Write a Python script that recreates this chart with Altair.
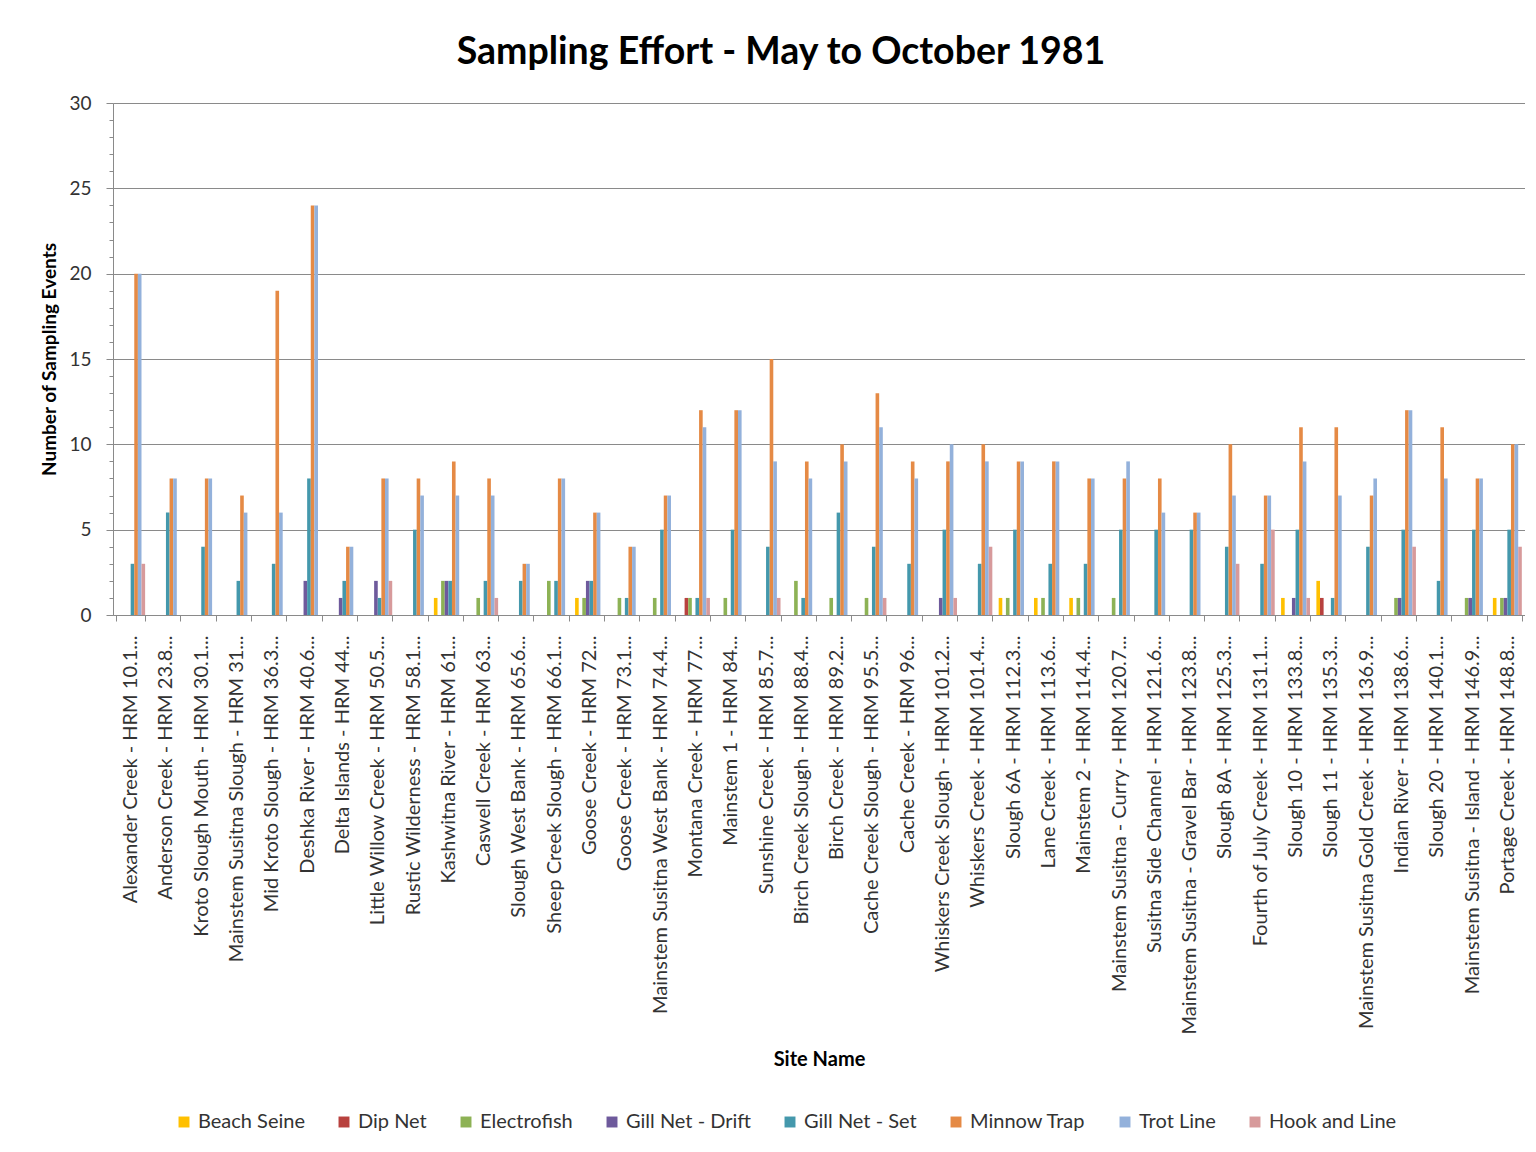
import altair as alt
import pandas as pd

sites = [
    "Alexander Creek - HRM 10.1...", "Anderson Creek - HRM 23.8...",
    "Kroto Slough Mouth - HRM 30.1...", "Mainstem Susitna Slough - HRM 31...",
    "Mid Kroto Slough - HRM 36.3...", "Deshka River - HRM 40.6...",
    "Delta Islands - HRM 44...", "Little Willow Creek - HRM 50.5...",
    "Rustic Wilderness - HRM 58.1...", "Kashwitna River - HRM 61...",
    "Caswell Creek - HRM 63...", "Slough West Bank - HRM 65.6...",
    "Sheep Creek Slough - HRM 66.1...", "Goose Creek - HRM 72...",
    "Goose Creek - HRM 73.1...", "Mainstem Susitna West Bank - HRM 74.4...",
    "Montana Creek - HRM 77...", "Mainstem 1 - HRM 84...",
    "Sunshine Creek - HRM 85.7...", "Birch Creek Slough - HRM 88.4...",
    "Birch Creek - HRM 89.2...", "Cache Creek Slough - HRM 95.5...",
    "Cache Creek - HRM 96...", "Whiskers Creek Slough - HRM 101.2...",
    "Whiskers Creek - HRM 101.4...", "Slough 6A - HRM 112.3...",
    "Lane Creek - HRM 113.6...", "Mainstem 2 - HRM 114.4...",
    "Mainstem Susitna - Curry - HRM 120.7...", "Susitna Side Channel - HRM 121.6...",
    "Mainstem Susitna - Gravel Bar - HRM 123.8...", "Slough 8A - HRM 125.3...",
    "Fourth of July Creek - HRM 131.1...", "Slough 10 - HRM 133.8...",
    "Slough 11 - HRM 135.3...", "Mainstem Susitna Gold Creek - HRM 136.9...",
    "Indian River - HRM 138.6...", "Slough 20 - HRM 140.1...",
    "Mainstem Susitna - Island - HRM 146.9...", "Portage Creek - HRM 148.8...",
]

series = ["Beach Seine", "Dip Net", "Electrofish", "Gill Net - Drift",
          "Gill Net - Set", "Minnow Trap", "Trot Line", "Hook and Line"]

beach_seine   = [0,0,0,0,0,0,0,0,0,1, 0,0,0,1,0,0,0,0,0,0, 0,0,0,0,0,1,1,1,0,0, 0,0,0,1,2,0,0,0,0,1]
dip_net       = [0,0,0,0,0,0,0,0,0,0, 0,0,0,0,0,0,1,0,0,0, 0,0,0,0,0,0,0,0,0,0, 0,0,0,0,1,0,0,0,0,0]
electrofish   = [0,0,0,0,0,0,0,0,0,2, 1,0,2,1,1,1,1,1,0,2, 1,1,0,0,0,1,1,1,1,0, 0,0,0,0,0,0,1,0,1,1]
gill_drift    = [0,0,0,0,0,2,1,2,0,2, 0,0,0,2,0,0,0,0,0,0, 0,0,0,1,0,0,0,0,0,0, 0,0,0,1,0,0,1,0,1,1]
gill_set      = [3,6,4,2,3,8,2,1,5,2, 2,2,2,2,1,5,1,5,4,1, 6,4,3,5,3,5,3,3,5,5, 5,4,3,5,1,4,5,2,5,5]
minnow_trap   = [20,8,8,7,19,24,4,8,8,9, 8,3,8,6,4,7,12,12,15,9, 10,13,9,9,10,9,9,8,8,8, 6,10,7,11,11,7,12,11,8,10]
trot_line     = [20,8,8,6,6,24,4,8,7,7, 7,3,8,6,4,7,11,12,9,8, 9,11,8,10,9,9,9,8,9,6, 6,7,7,9,7,8,12,8,8,10]
hook_and_line = [3,0,0,0,0,0,0,2,0,0, 1,0,0,0,0,0,1,0,1,0, 0,1,0,1,4,0,0,0,0,0, 0,3,5,1,0,0,4,0,0,4]

colors = ["#FFC000", "#B8413E", "#8DB255", "#6E5A9C",
          "#4498AC", "#E58A45", "#93B1DB", "#D79A9B"]

all_values = [beach_seine, dip_net, electrofish, gill_drift,
              gill_set, minnow_trap, trot_line, hook_and_line]

rows = []
for name, vals in zip(series, all_values):
    for s, v in zip(sites, vals):
        rows.append({"site": s, "method": name, "events": v})
df = pd.DataFrame(rows)

FONT = "Lato"
GRID = "#8A8A8A"
TEXT = "#333333"
W, H = 1412, 512

chart = alt.Chart(df).mark_bar().encode(
    x=alt.X(
        "site:N", sort=sites,
        scale=alt.Scale(paddingInner=0.18, paddingOuter=0.09),
        axis=alt.Axis(
            title="Site Name", labelAngle=-90, labelLimit=1000,
            labelFontSize=20, labelFont=FONT, labelColor=TEXT,
            labelPadding=14, tickBand="extent", tickSize=6,
            tickColor=GRID, domainColor=GRID,
            titleFontSize=20, titleFont=FONT, titleFontWeight="bold",
            titleColor="#000000", titleY=434,
        ),
    ),
    xOffset=alt.XOffset("method:N", sort=series,
                        scale=alt.Scale(domain=series, paddingInner=0, paddingOuter=0)),
    y=alt.Y(
        "events:Q",
        scale=alt.Scale(domain=[0, 30], nice=False),
        axis=alt.Axis(
            title="Number of Sampling Events",
            values=list(range(31)),
            labelExpr="datum.value % 5 === 0 ? datum.label : ''",
            labelOverlap=False,
            tickSize={"condition": {"test": "datum.value % 5 === 0", "value": 7}, "value": 4},
            gridOpacity={"condition": {"test": "datum.value % 5 === 0", "value": 1}, "value": 0},
            gridColor=GRID, tickColor=GRID, domainColor=GRID,
            labelFontSize=19, labelFont=FONT, labelColor=TEXT, labelPadding=15,
            titleFontSize=19, titleFont=FONT, titleFontWeight="bold",
            titleColor="#000000", titleX=-54, titleY=256,
        ),
    ),
    color=alt.Color(
        "method:N",
        scale=alt.Scale(domain=series, range=colors),
        legend=alt.Legend(
            title=None, orient="none", legendX=61, legendY=1009,
            direction="horizontal", symbolType="square", symbolSize=120,
            symbolStrokeWidth=0, labelFontSize=20, labelFont=FONT,
            labelColor=TEXT, columnPadding=29, labelOffset=4, padding=0,
        ),
    ),
).properties(
    width=W, height=H,
    padding={"left": 32, "top": 25, "right": 0, "bottom": 0},
    title=alt.TitleParams(
        "Sampling Effort - May to October 1981",
        fontSize=37.5, font=FONT, fontWeight="bold", color="#000000",
        anchor="middle", frame="group", dx=-38, offset=23,
    ),
).configure_view(stroke=None).configure(background="white")

chart.save("out.html", embed_options={"renderer": "svg", "actions": False})
